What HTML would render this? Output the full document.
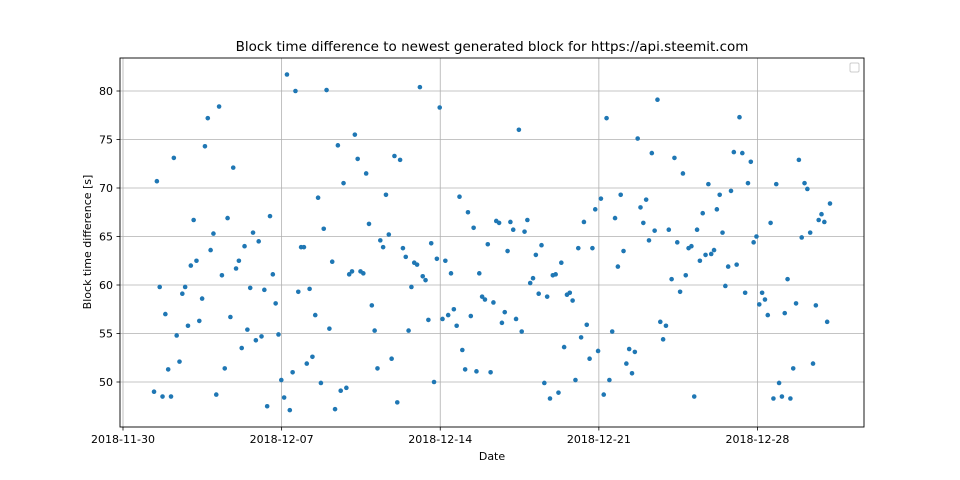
<!DOCTYPE html>
<html><head><meta charset="utf-8"><style>body{margin:0;background:#fff}svg{display:block;font-family:"DejaVu Sans","Liberation Sans",sans-serif}</style></head>
<body>
<svg id="chart" width="960" height="480" viewBox="0 0 960 480">
<rect x="0" y="0" width="960" height="480" fill="#fff"/>
<text x="492" y="51" font-size="13.5" text-anchor="middle">Block time difference to newest generated block for https://api.steemit.com</text>
<g id="grid"></g>
<g id="points"></g>
<g id="axes"></g>
<rect x="120" y="58" width="744" height="369" fill="none" stroke="#000" stroke-width="0.9"/>
<rect x="850" y="63" width="9" height="9" rx="1.5" fill="#fff" stroke="#ccc"/>
<text x="492" y="460" font-size="11" text-anchor="middle">Date</text>
<text x="0" y="0" font-size="11" text-anchor="middle" transform="translate(91,242) rotate(-90)">Block time difference [s]</text>
</svg>
<script>
const values=[49.0,70.7,59.8,48.5,57.0,51.3,48.5,73.1,54.8,52.1,59.1,59.8,55.8,62.0,66.7,62.5,56.3,58.6,74.3,77.2,63.6,65.3,48.7,78.4,61.0,51.4,66.9,56.7,72.1,61.7,62.5,53.5,64.0,55.4,59.7,65.4,54.3,64.5,54.7,59.5,47.5,67.1,61.1,58.1,54.9,50.2,48.4,81.7,47.1,51.0,80.0,59.3,63.9,63.9,51.9,59.6,52.6,56.9,69.0,49.9,65.8,80.1,55.5,62.4,47.2,74.4,49.1,70.5,49.4,61.1,61.4,75.5,73.0,61.4,61.2,71.5,66.3,57.9,55.3,51.4,64.6,63.9,69.3,65.2,52.4,73.3,47.9,72.9,63.8,62.9,55.3,59.8,62.3,62.1,80.4,60.9,60.5,56.4,64.3,50.0,62.7,78.3,56.5,62.5,56.9,61.2,57.5,55.8,69.1,53.3,51.3,67.5,56.8,65.9,51.1,61.2,58.8,58.5,64.2,51.0,58.2,66.6,66.4,56.1,57.2,63.5,66.5,65.7,56.5,76.0,55.2,65.5,66.7,60.2,60.7,63.1,59.1,64.1,49.9,58.8,48.3,61.0,61.1,48.9,62.3,53.6,59.0,59.2,58.4,50.2,63.8,54.6,66.5,55.9,52.4,63.8,67.8,53.2,68.9,48.7,77.2,50.2,55.2,66.9,61.9,69.3,63.5,51.9,53.4,50.9,53.1,75.1,68.0,66.4,68.8,64.6,73.6,65.6,79.1,56.2,54.4,55.8,65.7,60.6,73.1,64.4,59.3,71.5,61.0,63.8,64.0,48.5,65.7,62.5,67.4,63.1,70.4,63.2,63.6,67.8,69.3,65.4,59.9,61.9,69.7,73.7,62.1,77.3,73.6,59.2,70.5,72.7,64.4,65.0,58.0,59.2,58.5,56.9,66.4,48.3,70.4,49.9,48.5,57.1,60.6,48.3,51.4,58.1,72.9,64.9,70.5,69.9,65.4,51.9,57.9,66.7,67.3,66.5,56.2,68.4];
const firstDay=1.37, lastDay=31.2; // days since 2018-11-30
const xTickLabels=["2018-11-30","2018-12-07","2018-12-14","2018-12-21","2018-12-28"];
const xTickDays=[0,7,14,21,28];
const yTicks=[50,55,60,65,70,75,80];
const X=d=>123+d*22.66;
const Y=v=>382-(v-50)*9.7;
const ns="http://www.w3.org/2000/svg";
function mk(t,a,p){const e=document.createElementNS(ns,t);for(const k in a)e.setAttribute(k,a[k]);p.appendChild(e);return e;}
const grid=document.getElementById('grid'),axes=document.getElementById('axes'),pts=document.getElementById('points');
yTicks.forEach(v=>{
 const g=mk('line',{x1:120,x2:864,y1:Y(v),y2:Y(v),stroke:'#b0b0b0','stroke-width':0.8},grid);
 
 
 mk('line',{x1:116.5,x2:120,y1:Y(v),y2:Y(v),stroke:'#000','stroke-width':0.8},axes);
 const t=mk('text',{x:113,y:Y(v)+4,'font-size':11,'text-anchor':'end'},axes);t.textContent=v;
 
 
});
xTickDays.forEach((d,i)=>{
 const g=mk('line',{x1:X(d),x2:X(d),y1:58,y2:427,stroke:'#b0b0b0','stroke-width':0.8},grid);
 
 
 mk('line',{x1:X(d),x2:X(d),y1:427,y2:430.5,stroke:'#000','stroke-width':0.8},axes);
 const t=mk('text',{x:X(d),y:443,'font-size':11,'text-anchor':'middle'},axes);t.textContent=xTickLabels[i];
 
 
});
const step=(lastDay-firstDay)/(values.length-1);
values.forEach((v,i)=>{
 const c=mk('circle',{cx:X(firstDay+i*step),cy:Y(v),r:2.3,fill:'#1f77b4'},pts);
 
 
});
</script>
</body></html>
